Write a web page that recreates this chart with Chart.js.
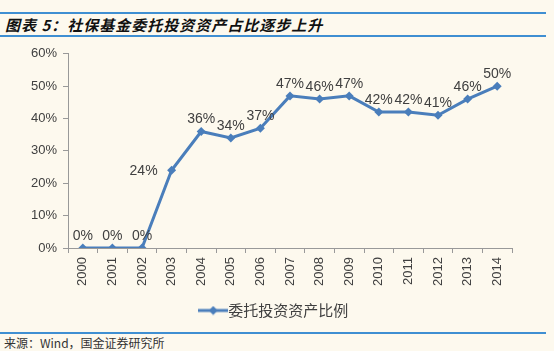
<!DOCTYPE html>
<html>
<head>
<meta charset="utf-8">
<script src="https://cdn.jsdelivr.net/npm/chart.js@4.4.1/dist/chart.umd.min.js"></script>
<style>
  body { margin: 0; background: #fdf9ee; width: 554px; height: 351px; position: relative; overflow: hidden; }
  .rule { position: absolute; left: 0; width: 546px; height: 2px; background: #3f8fd2; }
  #title { position: absolute; left: 5px; top: 14px; font: italic bold 15px "Noto Sans CJK SC", sans-serif; color: #111; letter-spacing: 1px; }
  #source { position: absolute; left: 4px; top: 334px; font: 12px "Noto Sans CJK SC", sans-serif; color: #333; }
  #wrap { position: absolute; left: 0; top: 40px; width: 554px; height: 290px; }
</style>
</head>
<body>
<div class="rule" style="top:12px"></div>
<div id="title">图表 5：社保基金委托投资资产占比逐步上升</div>
<div class="rule" style="top:35px"></div>
<div id="wrap"><canvas id="chart"></canvas></div>
<div class="rule" style="top:332px"></div>
<div id="source">来源：Wind，国金证券研究所</div>
<script>
const years = ['2000','2001','2002','2003','2004','2005','2006','2007','2008','2009','2010','2011','2012','2013','2014'];
const shareValues = [0, 0, 0, 24, 36, 34, 37, 47, 46, 47, 42, 42, 41, 46, 50];   // 委托投资资产比例, %
const yTicks = [0, 10, 20, 30, 40, 50, 60];
const seriesName = '委托投资资产比例';

const lineColor = '#4a7ebb';
const textColor = '#404040';

// legend symbol: short line with a diamond in the middle
function legendIcon() {
    const c = document.createElement('canvas');
    c.width = 30; c.height = 10;
    const g = c.getContext('2d');
    g.strokeStyle = lineColor; g.lineWidth = 3;
    g.beginPath(); g.moveTo(0, 5); g.lineTo(30, 5); g.stroke();
    g.fillStyle = lineColor;
    g.beginPath(); g.moveTo(15, 0.5); g.lineTo(19.5, 5); g.lineTo(15, 9.5); g.lineTo(10.5, 5); g.closePath(); g.fill();
    return c;
}

// draws the % value next to every point
const valueLabels = {
    id: 'valueLabels',
    afterDatasetsDraw(chart) {
        const ctx = chart.ctx;
        const meta = chart.getDatasetMeta(0);
        ctx.save();
        ctx.font = '14px "Liberation Sans", sans-serif';
        ctx.fillStyle = textColor;
        meta.data.forEach((pt, i) => {
            const txt = shareValues[i] + '%';
            if (i === 3) {
                ctx.textAlign = 'right'; ctx.textBaseline = 'middle';
                ctx.fillText(txt, pt.x - 14, pt.y + 1);
            } else {
                ctx.textAlign = 'center'; ctx.textBaseline = 'bottom';
                ctx.fillText(txt, pt.x, pt.y - 5);
            }
        });
        ctx.restore();
    }
};

// the legend sits centred on the whole page, not only on the padded box
const shiftLegend = {
    id: 'shiftLegend',
    afterLayout(chart) {
        const lg = chart.legend;
        if (!lg) return;
        lg.left += 21;
        lg.right += 21;
    }
};

new Chart(document.getElementById('chart'), {
    type: 'line',
    data: {
        labels: years,
        datasets: [{
            label: seriesName,
            data: shareValues,
            borderColor: lineColor,
            backgroundColor: lineColor,
            borderWidth: 3,
            pointStyle: 'rectRot',
            pointRadius: 4.5,
            pointBackgroundColor: lineColor,
            pointBorderWidth: 0,
            tension: 0
        }]
    },
    options: {
        responsive: true,
        maintainAspectRatio: false,
        animation: false,
        layout: { padding: { top: 12, right: 42, bottom: 2, left: 0 } },
        plugins: {
            tooltip: { enabled: false },
            legend: {
                position: 'bottom',
                labels: {
                    usePointStyle: true,
                    padding: 9,
                    color: textColor,
                    font: { family: '"Noto Sans CJK SC", sans-serif', size: 15 },
                    generateLabels: () => [{ text: seriesName, pointStyle: legendIcon(), fontColor: textColor, lineWidth: 0, strokeStyle: 'transparent', fillStyle: lineColor }]
                }
            }
        },
        scales: {
            x: {
                offset: true,
                grid: { display: true, drawOnChartArea: false, offset: true, tickLength: 5, color: '#999' },
                border: { color: '#999' },
                ticks: {
                    color: textColor,
                    font: { family: '"Liberation Sans", sans-serif', size: 13 },
                    minRotation: 90, maxRotation: 90, padding: 4
                },
                afterFit: s => { s.height = 46; }
            },
            y: {
                min: 0, max: 60,
                afterBuildTicks: s => { s.ticks = yTicks.map(v => ({ value: v })); },
                grid: { display: true, drawOnChartArea: false, tickLength: 5, color: '#999' },
                border: { color: '#999' },
                ticks: {
                    color: textColor,
                    font: { family: '"Liberation Sans", sans-serif', size: 13 },
                    padding: 6,
                    callback: v => v + '%'
                },
                afterFit: s => { s.width = 68; }
            }
        }
    },
    plugins: [valueLabels, shiftLegend]
});
</script>
</body>
</html>
